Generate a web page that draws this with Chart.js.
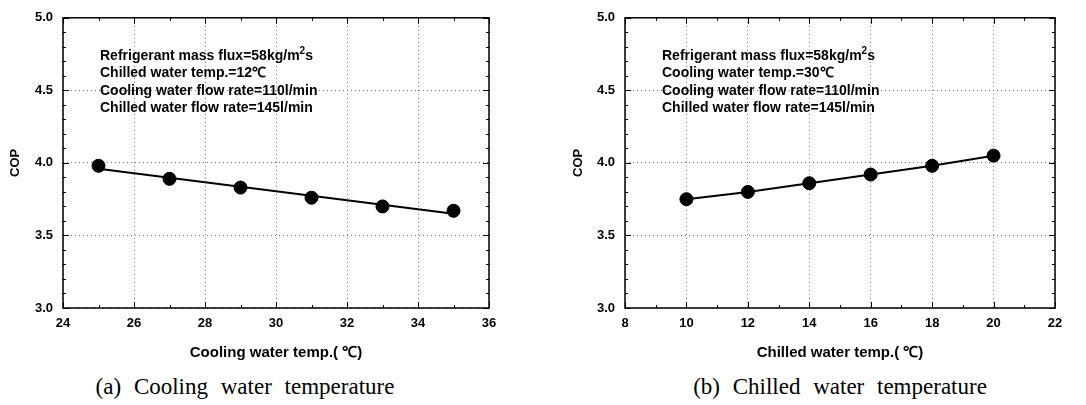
<!DOCTYPE html>
<html>
<head>
<meta charset="utf-8">
<script src="https://cdn.jsdelivr.net/npm/chart.js@4.4.0/dist/chart.umd.min.js"></script>
<style>
  body { margin: 0; background: #fff; }
  #wrap { position: relative; width: 1086px; height: 405px; overflow: hidden; }
  .box { position: absolute; top: 0; width: 543px; height: 370px; }
  .note {
    position: absolute; font: bold 14px "Liberation Sans", Arial, sans-serif;
    line-height: 17.3px; color: #000; white-space: nowrap;
  }
  .note sup { font-size: 10px; line-height: 0; vertical-align: 6px; }
  .cap {
    position: absolute; top: 374px; font: 23px "Liberation Serif", serif;
    word-spacing: 7px; color: #000; white-space: nowrap; transform: translateX(-50%);
  }
</style>
</head>
<body>
<div id="wrap">
  <div class="box" style="left:0"><canvas id="chartA"></canvas></div>
  <div class="box" style="left:543px"><canvas id="chartB"></canvas></div>
  <div class="note" style="left:100px; top:47px">
    Refrigerant mass flux=58kg/m<sup>2</sup>s<br>
    Chilled water temp.=12℃<br>
    Cooling water flow rate=110l/min<br>
    Chilled water flow rate=145l/min
  </div>
  <div class="note" style="left:662px; top:47px">
    Refrigerant mass flux=58kg/m<sup>2</sup>s<br>
    Cooling water temp.=30℃<br>
    Cooling water flow rate=110l/min<br>
    Chilled water flow rate=145l/min
  </div>
  <div class="cap" style="left:245px">(a) Cooling water temperature</div>
  <div class="cap" style="left:840px">(b) Chilled water temperature</div>
</div>

<script>
// (a) COP vs cooling water temperature
const coolTemp = [25, 27, 29, 31, 33, 35];
const coolCop = [3.98, 3.89, 3.83, 3.76, 3.70, 3.67];
const coolFitTemp = [25, 35];
const coolFitCop = [3.96, 3.65];

// (b) COP vs chilled water temperature
const chillTemp = [10, 12, 14, 16, 18, 20];
const chillCop = [3.75, 3.80, 3.86, 3.92, 3.98, 4.05];

const copTicks = [3.0, 3.5, 4.0, 4.5, 5.0];

const tickFont = { family: 'Liberation Sans', size: 13, weight: 'bold' };
const xTitleFont = { family: 'Liberation Sans', size: 15, weight: 'bold' };
const yTitleFont = { family: 'Liberation Sans', size: 13, weight: 'bold' };

// frame and inward ticks on all four sides
const frameTicks = {
  id: 'frameTicks',
  afterDraw(chart, args, opts) {
    const { ctx, chartArea: a } = chart;
    const xs = chart.scales.x, ys = chart.scales.y;
    ctx.save();
    ctx.strokeStyle = '#000';
    ctx.lineWidth = 1;
    const tick = (x1, y1, x2, y2) => {
      ctx.beginPath(); ctx.moveTo(x1, y1); ctx.lineTo(x2, y2); ctx.stroke();
    };
    for (let v = xs.min; v <= xs.max + 1e-9; v += opts.xMinor) {
      const px = Math.round(xs.getPixelForValue(v)) + 0.5;
      const major = Math.abs(((v - xs.min) / opts.xMajor) - Math.round((v - xs.min) / opts.xMajor)) < 1e-6;
      const len = major ? 6 : 3;
      tick(px, a.bottom, px, a.bottom - len);
      tick(px, a.top, px, a.top + len);
    }
    for (let v = ys.min; v <= ys.max + 1e-9; v += opts.yMinor) {
      const py = Math.round(ys.getPixelForValue(v)) + 0.5;
      const major = Math.abs(((v - ys.min) / opts.yMajor) - Math.round((v - ys.min) / opts.yMajor)) < 1e-6;
      const len = major ? 6 : 3;
      tick(a.left, py, a.left + len, py);
      tick(a.right, py, a.right - len, py);
    }
    ctx.lineWidth = 1.5;
    ctx.strokeRect(a.left, a.top, a.right - a.left, a.bottom - a.top);
    ctx.restore();
  }
};

function makeChart(id, xs, ys, fitX, fitY, xMin, xMax, xTitle, pad) {
  const points = xs.map((x, i) => ({ x: x, y: ys[i] }));
  const line = fitX.map((x, i) => ({ x: x, y: fitY[i] }));
  return new Chart(document.getElementById(id), {
    type: 'scatter',
    data: {
      datasets: [
        {
          data: line,
          showLine: true,
          borderColor: '#000',
          borderWidth: 2,
          pointRadius: 0,
          order: 2
        },
        {
          data: points,
          backgroundColor: '#000',
          borderColor: '#000',
          pointRadius: 6.5,
          pointHoverRadius: 6.5,
          order: 1
        }
      ]
    },
    options: {
      responsive: true,
      maintainAspectRatio: false,
      animation: false,
      events: [],
      layout: { padding: pad },
      plugins: {
        legend: { display: false },
        tooltip: { enabled: false },
        frameTicks: { xMinor: 1, xMajor: 2, yMinor: 0.1, yMajor: 0.5 }
      },
      scales: {
        x: {
          type: 'linear',
          min: xMin,
          max: xMax,
          ticks: { stepSize: 2, color: '#000', font: tickFont, padding: 8 },
          grid: { color: '#777', lineWidth: 1, drawTicks: false },
          border: { display: false, dash: [1, 3] },
          title: { display: true, text: xTitle, color: '#000', font: xTitleFont, padding: { top: 0, bottom: 8 } },
          afterFit: (s) => { s.height = 62; }
        },
        y: {
          min: 3.0,
          max: 5.0,
          afterBuildTicks: (s) => { s.ticks = copTicks.map(v => ({ value: v })); },
          ticks: { color: '#000', font: tickFont, padding: 10, callback: (v) => v.toFixed(1) },
          grid: { color: '#777', lineWidth: 1, drawTicks: false },
          border: { display: false, dash: [1, 3] },
          title: { display: true, text: 'COP', color: '#000', font: yTitleFont, padding: { top: 8, bottom: 0 } },
          afterFit: (s) => { s.width = pad.yWidth; }
        }
      }
    },
    plugins: [frameTicks]
  });
}

makeChart('chartA', coolTemp, coolCop, coolFitTemp, coolFitCop, 24, 36,
  'Cooling water temp.( ℃)', { left: 0, right: 54, top: 15, bottom: 0, yWidth: 63 });
makeChart('chartB', chillTemp, chillCop, chillTemp, chillCop, 8, 22,
  'Chilled water temp.( ℃)', { left: 20, right: 31, top: 14, bottom: 0, yWidth: 62 });
</script>
</body>
</html>
